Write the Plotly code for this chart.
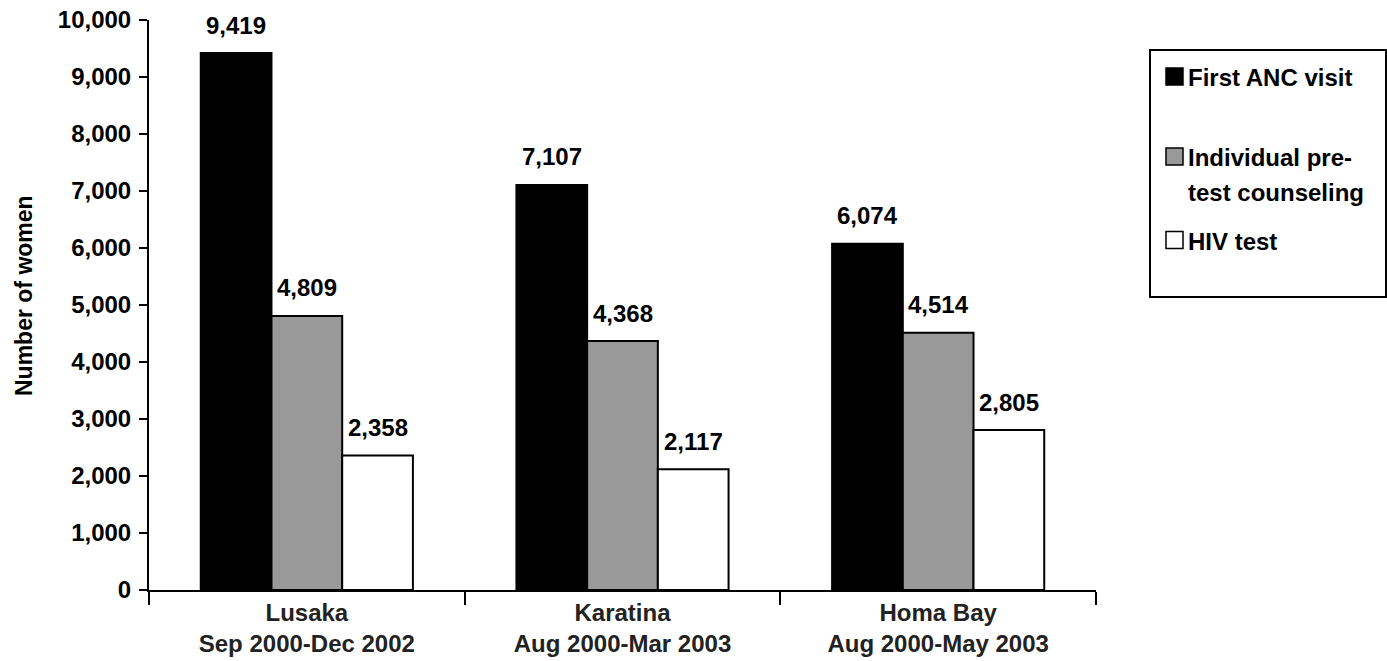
import plotly.graph_objects as go

# ── Data ───────────────────────────────────────────────────────────────────
SITES = ["Lusaka", "Karatina", "Homa Bay"]
PERIODS = ["Sep 2000-Dec 2002", "Aug 2000-Mar 2003", "Aug 2000-May 2003"]
SERIES = ["First ANC visit", "Individual pre-<br>test counseling", "HIV test"]
FIRST_ANC = [9419, 7107, 6074]
PRETEST = [4809, 4368, 4514]
HIV_TEST = [2358, 2117, 2805]
Y_TICKS = list(range(0, 10001, 1000))

VALUES = [FIRST_ANC, PRETEST, HIV_TEST]
FILLS = ["#000000", "#999999", "#ffffff"]

FONT = "Liberation Sans, Arial, sans-serif"
FS = 24
W, H = 1387, 661
# plot area in pixels
X0, X1, Y0, Y1 = 149, 1096, 20, 590
BAR_W = 70.7


def px(x):
    return (x - X0) / (X1 - X0)


def py(y):
    return (Y1 - y) / (Y1 - Y0)


def bold(size, color="#000000"):
    return {"family": FONT, "size": size, "color": color, "weight": "bold"}


cats = [f"{s}<br>{p}" for s, p in zip(SITES, PERIODS)]

fig = go.Figure()
for name, vals, col in zip(SERIES, VALUES, FILLS):
    fig.add_trace(go.Bar(
        x=cats, y=vals, name=name.replace("<br>", " "),
        marker={"color": col, "line": {"color": "#000000", "width": 2}},
        showlegend=False,
        hoverinfo="x+y",
    ))

# value labels above bars
for i, vals in enumerate(VALUES):
    for c, v in zip(cats, vals):
        fig.add_annotation(
            x=c, y=v, xref="x", yref="y",
            text=f"{v:,}", showarrow=False,
            xshift=(i - 1) * BAR_W, yshift=28, yanchor="middle",
            font=bold(FS),
        )

# y-axis title
fig.add_annotation(
    x=px(24), y=py(296), xref="paper", yref="paper",
    text="Number of women", textangle=-90, showarrow=False,
    xanchor="center", yanchor="middle",
    font=bold(23),
)

# legend box (drawn by hand to follow the original spacing)
fig.add_shape(type="rect", xref="paper", yref="paper",
              x0=px(1150), x1=px(1386), y0=py(297), y1=py(50),
              line={"color": "#000000", "width": 2}, fillcolor="#ffffff")
legend_rows = [76.5, 156.5, 240]
for name, col, yc in zip(SERIES, FILLS, legend_rows):
    fig.add_shape(type="rect", xref="paper", yref="paper",
                  x0=px(1166), x1=px(1183), y0=py(yc + 8.5), y1=py(yc - 8.5),
                  line={"color": "#000000", "width": 1.5}, fillcolor=col)
    for k, line in enumerate(name.split("<br>")):
        fig.add_annotation(
            x=px(1186), y=py(yc + 1 + k * 35), xref="paper", yref="paper",
            text=line, showarrow=False, xanchor="left", yanchor="middle",
            font=bold(FS),
        )

fig.update_layout(
    width=W, height=H,
    margin={"l": X0, "r": W - X1, "t": Y0, "b": H - Y1},
    paper_bgcolor="#ffffff", plot_bgcolor="#ffffff",
    barmode="group", bargap=0.328, bargroupgap=0,
    font={"family": FONT, "color": "#000000"},
    xaxis={
        "showline": True, "linecolor": "#000000", "linewidth": 2,
        "ticks": "outside", "tickson": "boundaries", "ticklen": 13,
        "tickwidth": 2, "tickcolor": "#000000",
        "showgrid": False, "automargin": False,
        "tickfont": bold(FS, "#222222"),
    },
    yaxis={
        "range": [0, 10000], "tickvals": Y_TICKS, "tickformat": ",d",
        "showline": True, "linecolor": "#000000", "linewidth": 2,
        "ticks": "outside", "ticklen": 8, "tickwidth": 2, "tickcolor": "#000000",
        "showgrid": False, "zeroline": False, "automargin": False,
        "ticklabelstandoff": 3,
        "tickfont": bold(FS),
    },
)

fig.write_html("out.html", config={"displayModeBar": False},
               post_script="document.body.style.margin='0';")
